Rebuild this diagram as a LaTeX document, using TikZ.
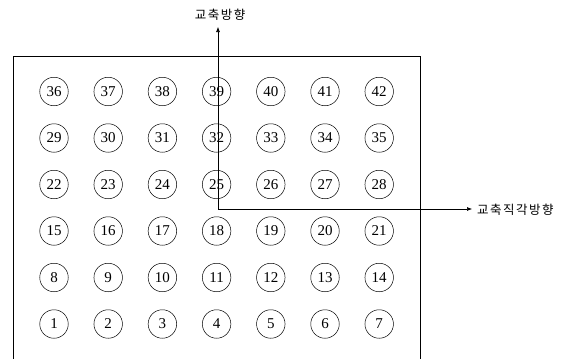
\documentclass[tikz,border=0pt]{standalone}
\usepackage{fontspec}
\setmainfont{Liberation Serif}
\newfontfamily\krfont[LetterSpace=12]{Noto Sans CJK KR}
\usetikzlibrary{arrows.meta}
\begin{document}
\begin{tikzpicture}[x=1pt,y=-1pt,
  pile/.style={draw,circle,minimum size=28.5pt,inner sep=0pt,font=\fontsize{15}{15}\selectfont,line width=0.5pt},
  axis/.style={line width=0.6pt,-{Latex[length=5pt,width=4pt]}},
  lbl/.style={font=\krfont\fontsize{12.5}{13}\selectfont,inner sep=1pt}]
\useasboundingbox (0,0) rectangle (568,359);
% frame, open at the bottom
\draw[line width=0.6pt] (13,359) -- (13,56) -- (420,56) -- (420,359);
% piles
\foreach \r in {0,...,5}{
  \foreach \c in {0,...,6}{
    \pgfmathtruncatemacro{\n}{\r*7+\c+1}
    \node[pile] (c\n) at ({54+\c*54.2},{324-\r*46.5}) {\n};
  }
}
% axes
\coordinate (o) at (218,209);
\coordinate (ytip) at (218,27);
\coordinate (xtip) at (472,209);
\draw[axis] (o) -- (ytip);
\draw[axis] (o) -- (xtip);
\node[lbl,anchor=south] (ylab) at (220,22) {교축방향};
\node[lbl,anchor=west] (xlab) at (476,210) {교축직각방향};
\end{tikzpicture}
\end{document}
